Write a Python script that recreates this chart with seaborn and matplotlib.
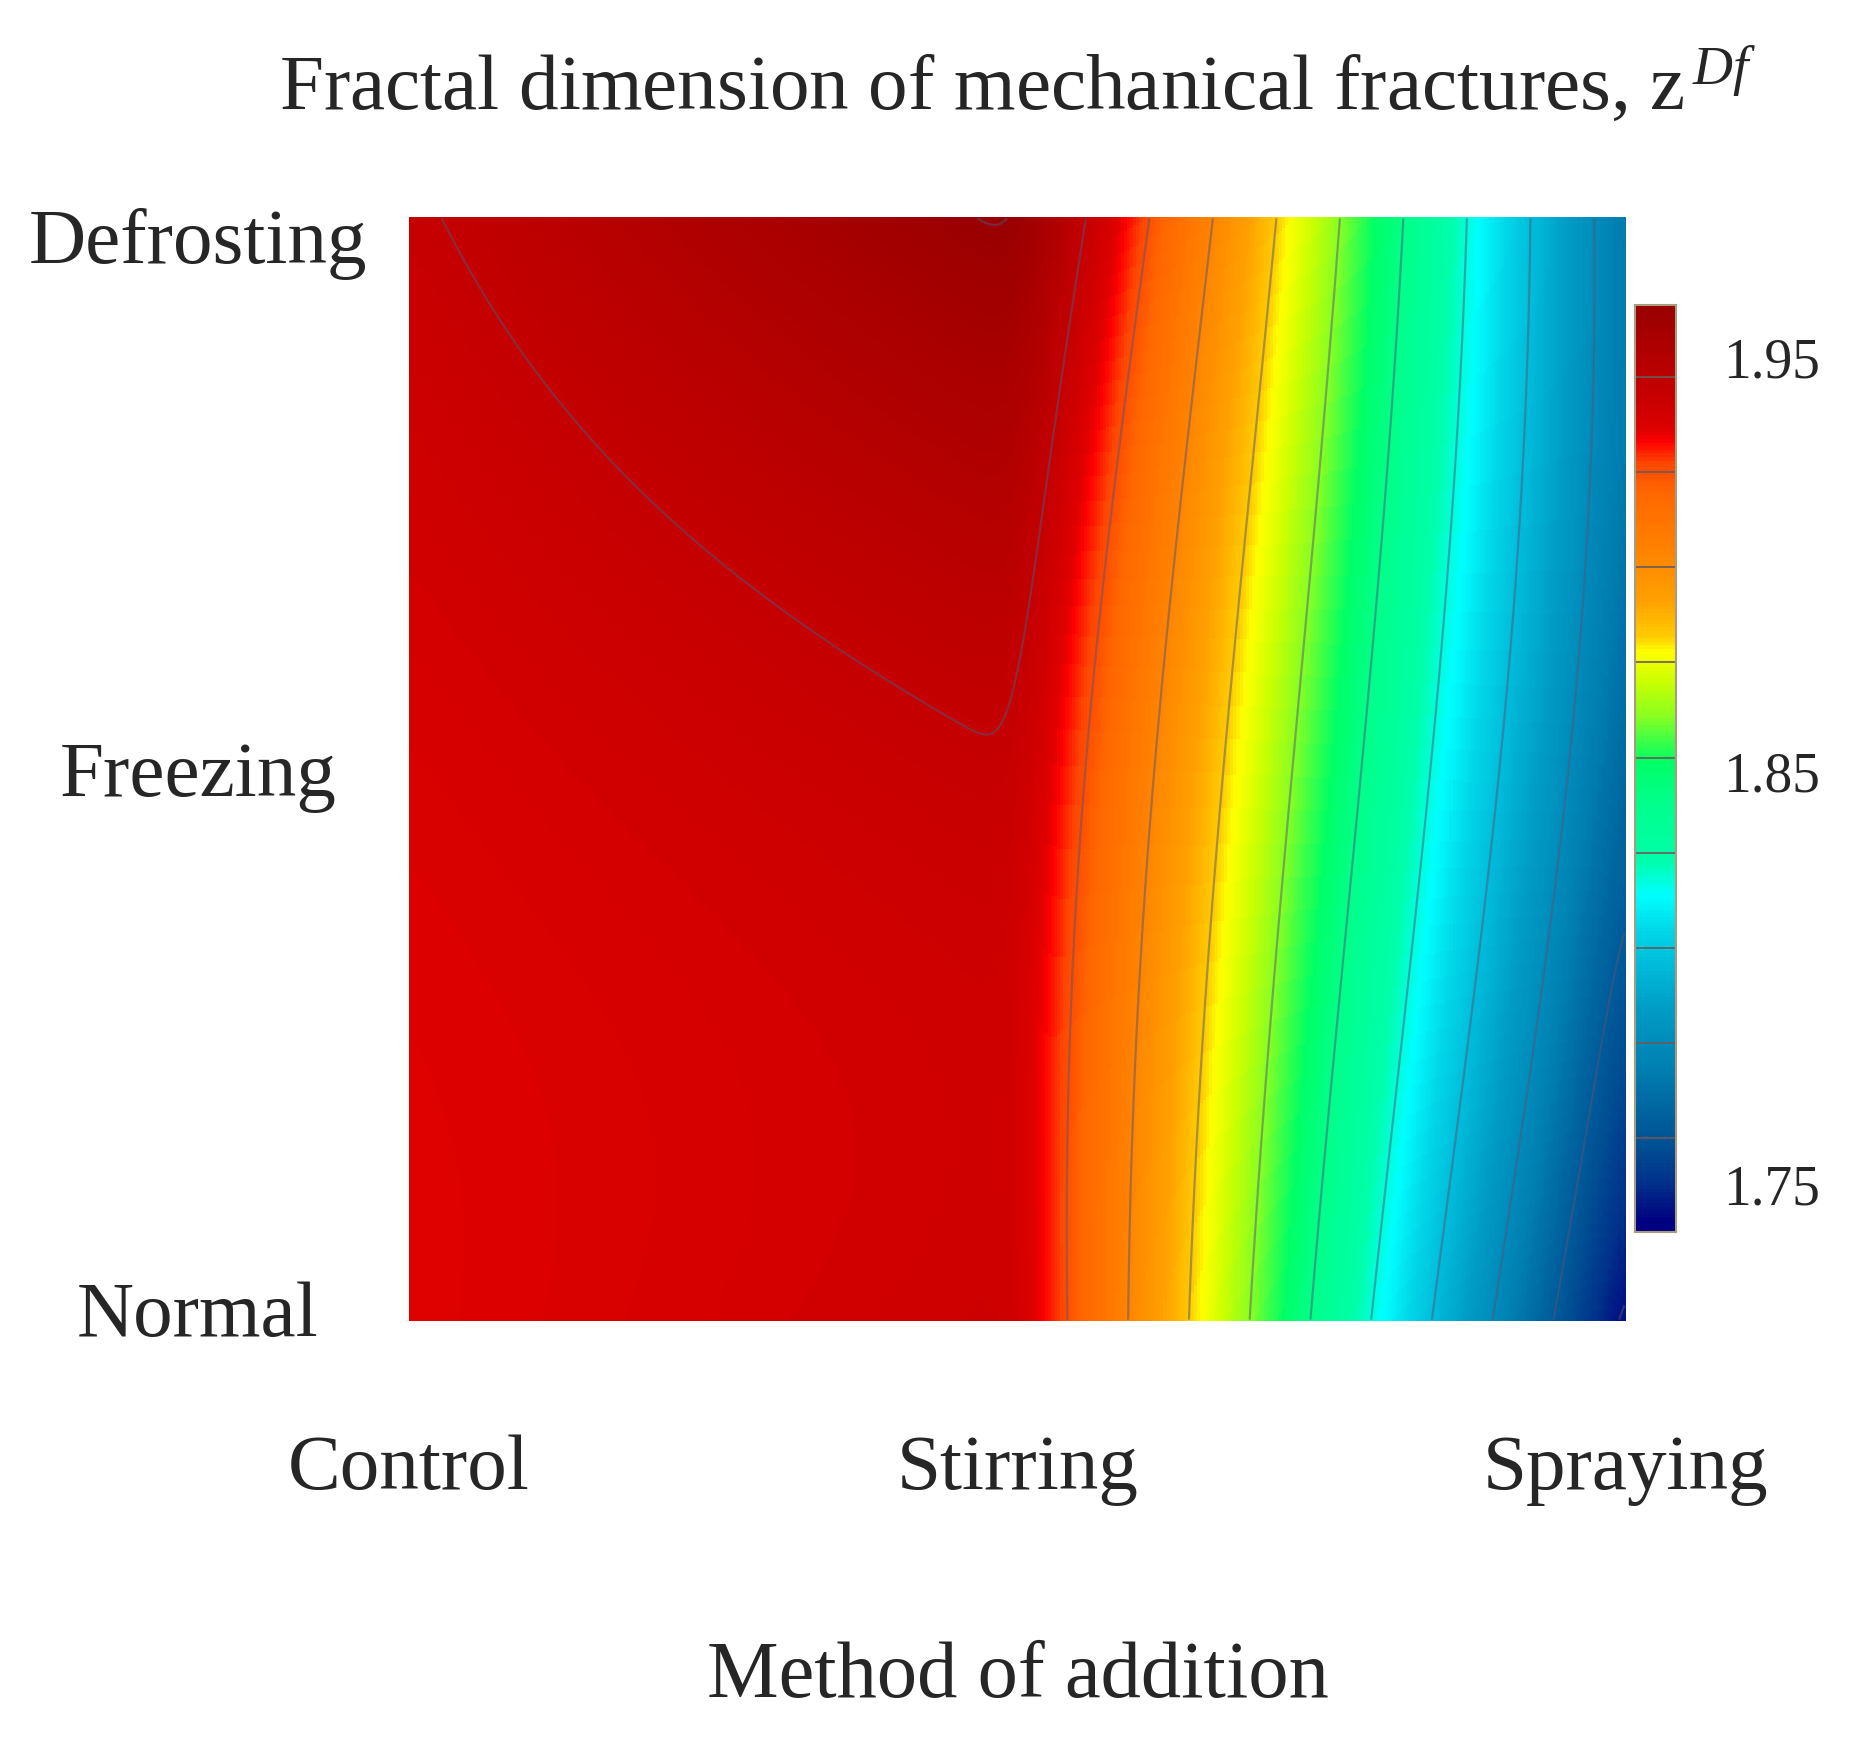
import numpy as np
import pandas as pd
import matplotlib
matplotlib.use("Agg")
from matplotlib import pyplot as plt
from matplotlib.colors import LinearSegmentedColormap
import seaborn as sns

# categories
methods = ["Control", "Stirring", "Spraying"]
treatments = ["Normal", "Freezing", "Defrosting"]

# fractal dimension, each list ordered Normal / Freezing / Defrosting
control = [1.9325, 1.9345, 1.9412]
stirring = [1.9389, 1.9421, 1.9638]
spraying = [1.7405, 1.7675, 1.7740]

cbar_ticks = [1.75, 1.85, 1.95]

df = pd.DataFrame({"Control": control, "Stirring": stirring, "Spraying": spraying},
                  index=treatments)

vmin, vmax = 1.7385, 1.9628

# colour scale of the map (value -> colour)
anchors = [
    (1.7385, "#000080"), (1.7405, "#000080"), (1.750, "#00308a"), (1.758, "#004c92"),
    (1.7675, "#00649f"), (1.778, "#0080b2"), (1.792, "#009cc6"), (1.802, "#00b8d8"),
    (1.8115, "#00d8e8"), (1.8199, "#00ffff"), (1.8284, "#00ffaa"), (1.8434, "#00ff88"),
    (1.852, "#00ff66"), (1.858, "#44ff44"), (1.8632, "#88ff22"), (1.872, "#ccff00"),
    (1.879, "#ffff00"), (1.8826, "#ffcc00"), (1.8915, "#ffa000"), (1.9048, "#ff8000"),
    (1.9181, "#ff6600"), (1.925, "#ff4400"), (1.930, "#ff0000"), (1.9325, "#e00000"),
    (1.937, "#d20000"), (1.9424, "#c40000"), (1.9628, "#990000"),
]
cmap = LinearSegmentedColormap.from_list(
    "frac", [((v - vmin) / (vmax - vmin), c) for v, c in anchors])

# smooth surface: quadratic along the treatment axis, piecewise linear along methods
n = 400
edges = np.linspace(-1, 1, n + 1)
centers = (edges[:-1] + edges[1:]) / 2
gx = centers
gy = centers[::-1]
pos = [-1, 0, 1]
cols = np.array([np.polyval(np.polyfit(pos, df[m].values, 2), gy) for m in methods])
Z = np.array([np.interp(gx, pos, cols[:, i]) for i in range(n)])

# round off the kink at Stirring a little
sig = 0.03 / (2 / n)
k = np.arange(-int(4 * sig), int(4 * sig) + 1)
kern = np.exp(-0.5 * (k / sig) ** 2)
kern /= kern.sum()
padded = np.pad(Z, ((0, 0), (len(k) // 2, len(k) // 2)), mode="edge")
Z = np.array([np.convolve(row, kern, mode="valid") for row in padded])
grid = pd.DataFrame(Z)

levels = np.linspace(1.7444, 1.9622, 12)
cbar_lines = np.linspace(1.7612, 1.9454, 9)

sns.set_theme(style="white")
plt.rcParams["font.family"] = ["Liberation Serif", "DejaVu Serif"]
plt.rcParams["mathtext.fontset"] = "custom"
plt.rcParams["mathtext.rm"] = "Liberation Serif"
plt.rcParams["mathtext.it"] = "Liberation Serif:italic"

fig = plt.figure(figsize=(18.58, 17.46), dpi=100)
ax = fig.add_axes([0.2201, 0.2434, 0.655, 0.6323])
cax = fig.add_axes([0.880, 0.2944, 0.0221, 0.5309])

sns.heatmap(grid, ax=ax, cbar_ax=cax, cmap=cmap, vmin=vmin, vmax=vmax,
            xticklabels=False, yticklabels=False)

jj, ii = np.meshgrid(np.arange(n) + 0.5, np.arange(n) + 0.5)
ax.contour(jj, ii, Z, levels=levels, colors="#55557a", linewidths=1.6, alpha=0.5)

ax.set_xticks([0, n / 2, n])
ax.set_xticklabels(methods, fontsize=57)
# labels sit slightly inside the top and bottom edges, as in the original
ax.set_yticks([0.017 * n, n / 2, 0.989 * n])
ax.set_yticklabels(treatments[::-1], fontsize=57, rotation=0, ha="center")
ax.tick_params(axis="x", length=0, pad=82)
ax.tick_params(axis="y", length=0, pad=152)

ax.set_title("Fractal dimension of mechanical fractures, z$^{\\,Df}$",
             fontsize=57, y=1.0978, pad=0)
ax.set_xlabel("Method of addition", fontsize=58)
ax.xaxis.set_label_coords(0.5, -0.3406)
ax.xaxis.label.set_va("baseline")

cbar = ax.collections[0].colorbar
cbar.set_ticks(cbar_ticks)
cbar.set_ticklabels([f"{t:.2f}" for t in cbar_ticks])
cbar.ax.tick_params(length=0, labelsize=40, pad=34)
cbar.outline.set_edgecolor("#a89c80")
cbar.outline.set_linewidth(1.5)
cbar.add_lines(cbar_lines, colors=["#6a5a5a"] * len(cbar_lines),
               linewidths=[1.2] * len(cbar_lines))

fig.savefig("out.png", dpi=100)
